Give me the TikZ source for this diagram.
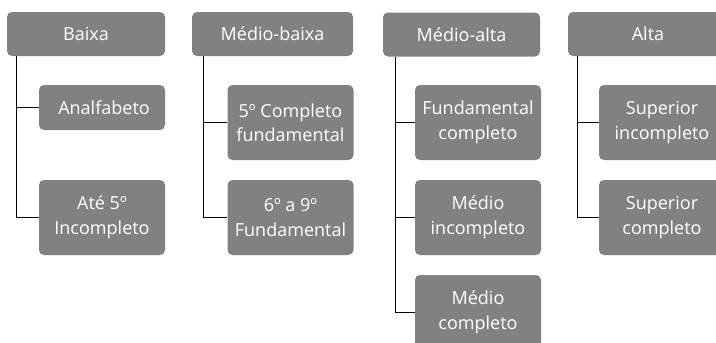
\documentclass[tikz,border=0pt]{standalone}
\usepackage{fontspec}
\setmainfont{Open Sans}
\usetikzlibrary{calc}
\definecolor{boxgray}{RGB}{128,129,132}
\tikzset{
  box/.style={fill=boxgray, rounded corners=5pt, text=white, align=center,
    inner sep=0pt, font=\fontsize{18}{24.5}\selectfont},
  head/.style={box, minimum height=44pt},
  kid/.style={box, minimum width=126pt, minimum height=75pt},
  kidone/.style={box, minimum width=126pt, minimum height=45pt},
  conn/.style={draw=black, line width=1.3pt}
}
\begin{document}
\begin{tikzpicture}[x=1pt,y=-1pt]
\useasboundingbox (0,0) rectangle (716,343);
\clip (0,0) rectangle (716,343);
% headers
\node[head, minimum width=158pt] (h1) at (86,34) {Baixa};
\node[head, minimum width=161pt] (h2) at (272.5,34) {Médio-baixa};
\node[head, minimum width=157pt] (h3) at (461.5,34.5) {Médio-alta};
\node[head, minimum width=160pt] (h4) at (648,34) {Alta};
% column 1
\node[kidone] (a1) at (102,107.5) {\hspace*{4pt}Analfabeto};
\node[kid] (a2) at (102,217.5) {Até 5º\\Incompleto};
% column 2
\node[kid] (b1) at (290.5,122.5) {5º Completo\\fundamental};
\node[kid] (b2) at (290.5,217.5) {6º a 9º\\Fundamental};
% column 3
\node[kid] (c1) at (478,122.5) {Fundamental\\completo};
\node[kid] (c2) at (478,217.5) {Médio\\incompleto};
\node[kid] (c3) at (478,312.5) {Médio\\completo};
% column 4
\node[kid] (d1) at (662,122.5) {Superior\\incompleto};
\node[kid] (d2) at (662,217.5) {Superior\\completo};
% connectors
\coordinate (t1) at ($(h1.south west)+(10,0)$);
\coordinate (t2) at ($(h2.south west)+(12,0)$);
\coordinate (t3) at ($(h3.south west)+(13,0)$);
\coordinate (t4) at ($(h4.south west)+(10,0)$);
\draw[conn] (t1) |- (a2.west);
\draw[conn] (t1) |- (a1.west);
\draw[conn] (t2) |- (b2.west);
\draw[conn] (t2) |- (b1.west);
\draw[conn] (t3) |- (c3.west);
\draw[conn] (t3) |- (c2.west);
\draw[conn] (t3) |- (c1.west);
\draw[conn] (t4) |- (d2.west);
\draw[conn] (t4) |- (d1.west);
\end{tikzpicture}
\end{document}
